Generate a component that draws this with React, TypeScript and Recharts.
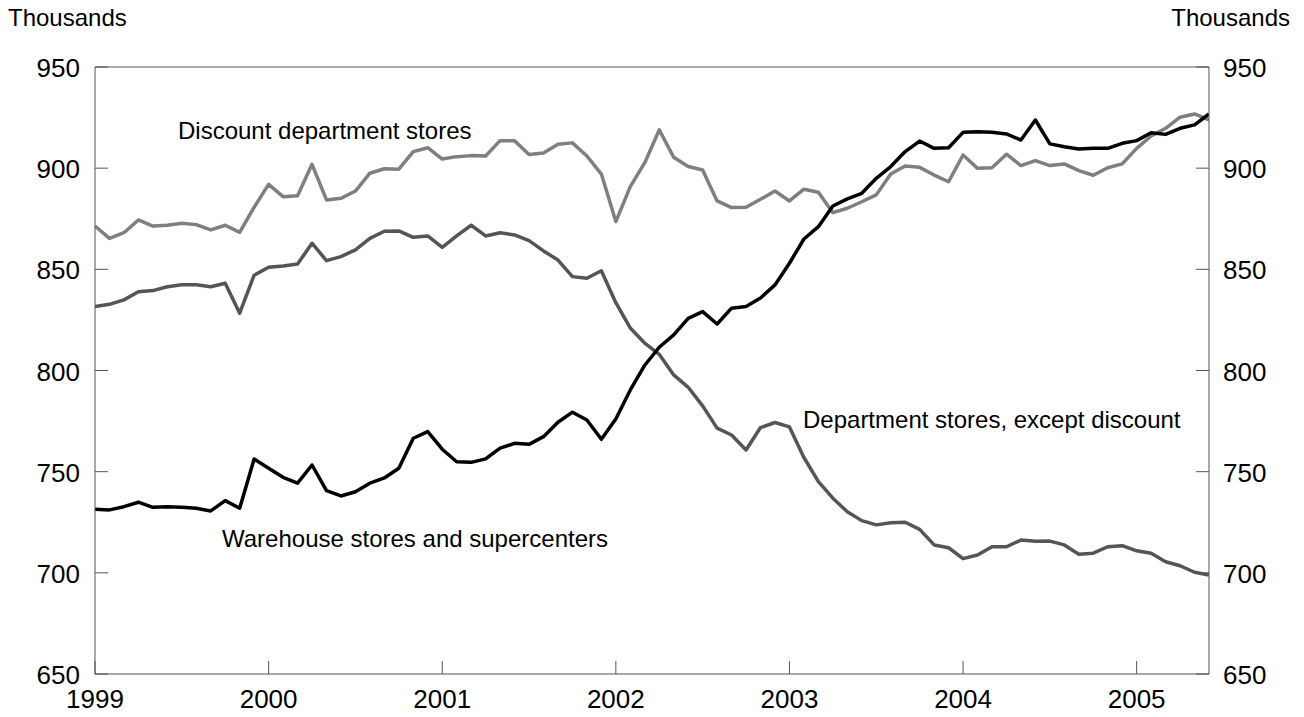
import React from 'react';
import { LineChart, Line, XAxis, YAxis, ReferenceLine } from 'recharts';

// Month index 0 = Jan 1999 ... 77 = Jun 2005
const discountStores = [
  871.4, 865.3, 868.1, 874.4, 871.4, 871.8, 872.8, 872.1, 869.5, 871.8, 868.3, 880.7,
  892.0, 885.9, 886.4, 901.9, 884.3, 885.1, 888.7, 897.5, 899.7, 899.5, 908.2, 910.1,
  904.5, 905.7, 906.2, 906.0, 913.6, 913.6, 906.7, 907.5, 911.8, 912.5, 906.0, 897.1,
  873.6, 890.9, 902.7, 918.9, 905.4, 900.8, 899.1, 883.8, 880.5, 880.7, 884.6, 888.7,
  883.8, 889.6, 888.1, 878.0, 880.2, 883.4, 886.8, 897.1, 901.1, 900.4, 896.6, 893.3,
  906.5, 899.9, 900.2, 906.9, 901.3, 903.7, 901.3, 902.1, 898.8, 896.5, 900.2, 902.1,
  909.8, 915.9, 919.7, 925.2, 926.8, 923.8,
];

const departmentStores = [
  831.6, 832.7, 834.9, 838.9, 839.5, 841.4, 842.4, 842.4, 841.4, 843.1, 828.3, 847.1,
  851.0, 851.7, 852.6, 862.9, 854.3, 856.3, 859.6, 865.3, 868.8, 869.0, 865.8, 866.5,
  860.9, 866.5, 871.8, 866.5, 868.1, 867.0, 864.2, 859.1, 854.6, 846.4, 845.6, 849.3,
  833.5, 821.0, 813.5, 808.0, 797.8, 791.7, 782.5, 771.5, 768.1, 760.7, 771.8, 774.3,
  772.1, 757.0, 745.1, 736.9, 730.2, 725.8, 723.7, 724.8, 725.0, 721.5, 713.8, 712.4,
  707.0, 708.8, 712.9, 712.9, 716.2, 715.6, 715.7, 713.8, 709.2, 709.7, 712.9, 713.4,
  710.9, 709.7, 705.5, 703.5, 700.3, 698.9,
];

const warehouseStores = [
  731.4, 731.1, 732.7, 734.9, 732.4, 732.7, 732.4, 731.9, 730.6, 735.7, 731.9, 756.3,
  751.7, 747.2, 744.3, 753.3, 740.6, 738.0, 740.1, 744.3, 746.9, 751.7, 766.5, 769.8,
  761.1, 754.9, 754.6, 756.3, 761.6, 764.0, 763.5, 767.3, 774.4, 779.4, 775.5, 766.0,
  776.0, 790.4, 802.6, 811.5, 817.6, 825.8, 829.1, 823.0, 830.8, 831.6, 835.8, 842.3,
  853.0, 865.0, 871.1, 881.3, 884.8, 887.6, 895.0, 900.8, 908.2, 913.4, 909.8, 910.1,
  917.7, 918.0, 917.7, 916.9, 913.9, 923.8, 912.0, 910.6, 909.5, 909.8, 909.8, 912.3,
  913.6, 917.5, 916.7, 919.7, 921.4, 926.8,
];

const yearTicks = [0, 12, 24, 36, 48, 60, 72];
const yearLabels = ['1999', '2000', '2001', '2002', '2003', '2004', '2005'];
const valueTicks = [650, 700, 750, 800, 850, 900, 950];

const data = discountStores.map((_, i) => ({
  i,
  discount: discountStores[i],
  dept: departmentStores[i],
  warehouse: warehouseStores[i],
}));

const FONT = '"Liberation Sans", Arial, Helvetica, sans-serif';
const AXIS = '#555555';

const XTick = (props: any) => {
  const { x, y, payload } = props;
  const idx = yearTicks.indexOf(payload.value);
  return (
    <g>
      <line x1={x} x2={x} y1={y} y2={y - 13} stroke={AXIS} strokeWidth={1} />
      <text x={x} y={y + 34} textAnchor="middle" fontSize={26} fontFamily={FONT} fill="#000">
        {idx >= 0 ? yearLabels[idx] : ''}
      </text>
    </g>
  );
};

const LeftTick = (props: any) => {
  const { x, y, payload } = props;
  return (
    <g>
      <line x1={x} x2={x + 13} y1={y} y2={y} stroke={AXIS} strokeWidth={1} />
      <text x={x - 15} y={y + 10} textAnchor="end" fontSize={26} fontFamily={FONT} fill="#000">
        {payload.value}
      </text>
    </g>
  );
};

const RightTick = (props: any) => {
  const { x, y, payload } = props;
  return (
    <g>
      <line x1={x} x2={x - 13} y1={y} y2={y} stroke={AXIS} strokeWidth={1} />
      <text x={x + 14} y={y + 10} textAnchor="start" fontSize={26} fontFamily={FONT} fill="#000">
        {payload.value}
      </text>
    </g>
  );
};

export default function App() {
  return (
    <div style={{ position: 'absolute', left: 0, top: 0, width: 1304, height: 717, background: '#fff' }}>
      <LineChart
        width={1304}
        height={717}
        data={data}
        margin={{ top: 67, right: 0, bottom: 0, left: 0 }}
      >
        <XAxis
          dataKey="i"
          type="number"
          domain={[0, 77]}
          ticks={yearTicks}
          interval={0}
          tick={(p: any) => <XTick {...p} />}
          tickLine={false}
          tickSize={0}
          tickMargin={0}
          axisLine={{ stroke: AXIS, strokeWidth: 1 }}
          height={43}
          allowDataOverflow
        />
        <YAxis
          yAxisId="left"
          domain={[650, 950]}
          ticks={valueTicks}
          interval={0}
          width={95}
          tick={(p: any) => <LeftTick {...p} />}
          tickLine={false}
          tickSize={0}
          tickMargin={0}
          axisLine={{ stroke: AXIS, strokeWidth: 1 }}
          allowDataOverflow
        />
        <YAxis
          yAxisId="right"
          orientation="right"
          domain={[650, 950]}
          ticks={valueTicks}
          interval={0}
          width={95}
          tick={(p: any) => <RightTick {...p} />}
          tickLine={false}
          tickSize={0}
          tickMargin={0}
          axisLine={{ stroke: AXIS, strokeWidth: 1 }}
          allowDataOverflow
        />
        <ReferenceLine yAxisId="left" y={950} stroke={AXIS} strokeWidth={1} />
        <Line
          yAxisId="left"
          type="linear"
          dataKey="discount"
          stroke="#7f7f7f"
          strokeWidth={3.5}
          dot={false}
          strokeLinejoin="round"
          isAnimationActive={false}
        />
        <Line
          yAxisId="left"
          type="linear"
          dataKey="dept"
          stroke="#555555"
          strokeWidth={3.5}
          dot={false}
          strokeLinejoin="round"
          isAnimationActive={false}
        />
        <Line
          yAxisId="left"
          type="linear"
          dataKey="warehouse"
          stroke="#000000"
          strokeWidth={3.5}
          dot={false}
          strokeLinejoin="round"
          isAnimationActive={false}
        />
      </LineChart>
      <svg
        width={1304}
        height={717}
        style={{ position: 'absolute', left: 0, top: 0, pointerEvents: 'none' }}
      >
        <g fontFamily={FONT} fill="#000">
          <text x={8} y={26} fontSize={24}>Thousands</text>
          <text x={1290} y={26} fontSize={24} textAnchor="end">Thousands</text>
          <text x={178} y={139} fontSize={24}>Discount department stores</text>
          <text x={803} y={428} fontSize={24}>Department stores, except discount</text>
          <text x={222} y={547} fontSize={24}>Warehouse stores and supercenters</text>
        </g>
      </svg>
    </div>
  );
}
